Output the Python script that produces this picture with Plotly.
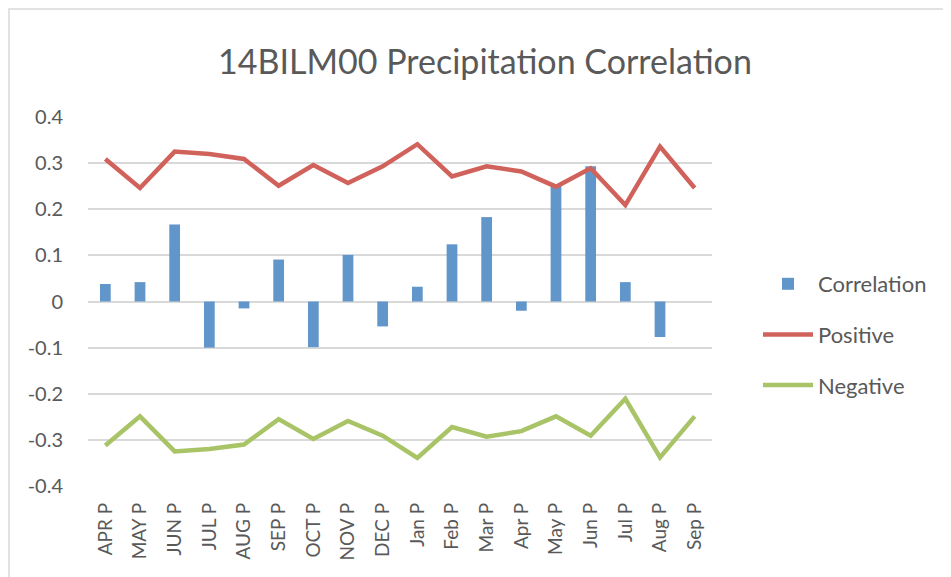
import plotly.graph_objects as go

categories = ["APR P", "MAY P", "JUN P", "JUL P", "AUG P", "SEP P", "OCT P", "NOV P", "DEC P",
              "Jan P", "Feb P", "Mar P", "Apr P", "May P", "Jun P", "Jul P", "Aug P", "Sep P"]
correlation = [0.038, 0.042, 0.167, -0.100, -0.015, 0.091, -0.099, 0.101, -0.054,
               0.032, 0.124, 0.183, -0.020, 0.251, 0.293, 0.042, -0.077, None]
positive = [0.309, 0.246, 0.325, 0.320, 0.309, 0.251, 0.296, 0.257, 0.293,
            0.341, 0.271, 0.293, 0.282, 0.249, 0.289, 0.209, 0.336, 0.246]
negative = [-0.312, -0.249, -0.325, -0.320, -0.310, -0.255, -0.298, -0.259, -0.291,
            -0.339, -0.272, -0.293, -0.281, -0.249, -0.291, -0.211, -0.338, -0.249]
y_ticks = [-0.4, -0.3, -0.2, -0.1, 0, 0.1, 0.2, 0.3, 0.4]
y_tick_labels = ["-0.4", "-0.3", "-0.2", "-0.1", "0", "0.1", "0.2", "0.3", "0.4"]

FONT = "Lato, 'Open Sans', sans-serif"
GREY = "#595959"
OFF = 8  # page body margin offset
W, H = 951, 577
# target screen positions of plot area
SL, SR, ST, SB = 88, 712, 117, 486
ML, MT = SL - OFF, ST - OFF
MR = W - (SR - OFF)
MB = H - (SB - OFF)
PW, PH = W - ML - MR, H - MT - MB

def px_x(p):
    return (p - OFF - ML) / PW

def px_y(p):
    return (H - MB - (p - OFF)) / PH

fig = go.Figure()
fig.add_trace(go.Bar(x=categories, y=correlation, name="Correlation",
                     marker=dict(color="#6196CA", line=dict(width=0)),
                     legendgroup="a"))
fig.add_trace(go.Scatter(x=categories, y=positive, name="Positive", mode="lines",
                         line=dict(color="#D0625B", width=4.5), legendgroup="b"))
fig.add_trace(go.Scatter(x=categories, y=negative, name="Negative", mode="lines",
                         line=dict(color="#A8C467", width=4.5), legendgroup="c"))

fig.update_layout(
    width=W, height=H,
    margin=dict(l=ML, r=MR, t=MT, b=MB),
    paper_bgcolor="white", plot_bgcolor="white",
    bargap=0.69,
    font=dict(family=FONT, color=GREY),
    title=dict(text="14BILM00 Precipitation Correlation",
               font=dict(size=34, color=GREY, family=FONT),
               x=(485 - OFF) / W, xanchor="center",
               y=1 - (62 - OFF) / H, yanchor="middle"),
    xaxis=dict(type="category", tickangle=-90, tickfont=dict(size=19, color=GREY),
               showgrid=False, showline=False, ticks="", ticklabelstandoff=12,
               range=[-0.5, len(categories) - 0.5]),
    yaxis=dict(range=[-0.4, 0.4], tickvals=y_ticks, ticktext=y_tick_labels,
               tickfont=dict(size=20, color=GREY), showgrid=True,
               gridcolor="#D9D9D9", gridwidth=1.5, zeroline=False,
               showline=False, ticks="", ticklabelstandoff=24),
    legend=dict(x=px_x(758), xanchor="left", y=px_y(263), yanchor="top",
                font=dict(size=22, color=GREY, family=FONT),
                traceorder="grouped", tracegroupgap=19,
                itemwidth=50, bgcolor="rgba(0,0,0,0)"),
    showlegend=True,
)

fig.add_shape(type="rect", xref="paper", yref="paper",
              x0=px_x(9), x1=px_x(970), y0=px_y(600), y1=px_y(9),
              line=dict(color="#D9D9D9", width=1.5), fillcolor="rgba(0,0,0,0)",
              layer="below")

fig.write_html("out.html")
